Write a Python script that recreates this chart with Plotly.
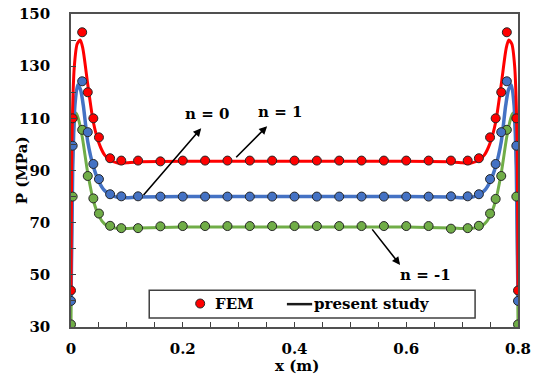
import plotly.graph_objects as go

# ---------------- data ----------------
fem_x = [0, 0.003, 0.02, 0.03, 0.04, 0.05, 0.07, 0.09, 0.12, 0.16, 0.20, 0.24, 0.28, 0.32,
         0.36, 0.40, 0.44, 0.48, 0.52, 0.56, 0.60, 0.64, 0.68, 0.71, 0.73, 0.75, 0.76,
         0.77, 0.78, 0.797, 0.8]
fem_n0 = [44, 110, 143, 120, 110, 102.7, 94.7, 93.8, 93.8, 93.5, 93.8, 93.8, 93.8, 93.8,
          93.8, 93.8, 93.8, 93.8, 93.8, 93.8, 93.8, 93.8, 93.8, 93.8, 94.7, 102.7, 110,
          120, 143, 110, 44]
fem_n1 = [40, 99.5, 124.2, 104.7, 92.5, 86.7, 80.9, 80.1, 80.1, 80, 80, 80, 80, 80,
          80, 80, 80, 80, 80, 80, 80, 80, 80.1, 80.1, 80.9, 86.7, 92.5,
          104.7, 124.2, 99.5, 40]
fem_nm1 = [31, 80, 105.6, 87.9, 79.3, 73.5, 68.8, 67.9, 67.9, 68.6, 68.7, 68.7, 68.7, 68.7,
           68.7, 68.7, 68.7, 68.7, 68.7, 68.7, 68.7, 68.7, 67.7, 67.9, 68.8, 73.5, 79.1,
           87.9, 105.6, 80, 31]

line_n0_x = [0, 0.002, 0.006, 0.011, 0.0165, 0.021, 0.03, 0.04, 0.05, 0.06, 0.07, 0.085, 0.1,
             0.12, 0.2, 0.3, 0.4, 0.5, 0.6, 0.68, 0.7, 0.715, 0.73, 0.74, 0.75, 0.76, 0.77,
             0.779, 0.7835, 0.789, 0.794, 0.798, 0.8]
line_n0_y = [44, 105, 130, 138.5, 140, 137, 123, 108.5, 100.5, 96, 94, 92.8, 93,
             93.3, 93.5, 93.5, 93.5, 93.5, 93.5, 93.3, 93, 92.8, 94, 96, 100.5, 108.5, 123,
             137, 140, 138.5, 130, 105, 44]

line_n1_x = [0, 0.003, 0.007, 0.012, 0.017, 0.022, 0.03, 0.04, 0.05, 0.06, 0.07, 0.085, 0.1,
             0.12, 0.2, 0.3, 0.4, 0.5, 0.6, 0.68, 0.7, 0.715, 0.73, 0.74, 0.75, 0.76, 0.77,
             0.778, 0.783, 0.788, 0.793, 0.797, 0.8]
line_n1_y = [40, 90, 115, 122.8, 121, 115, 101, 91.5, 85.7, 82.3, 80.8, 79.6, 79.6,
             79.8, 80, 80, 80, 80, 80, 79.8, 79.6, 79.6, 80.8, 82.3, 85.7, 91.5, 101,
             115, 121, 122.8, 115, 90, 40]

line_nm1_x = [0, 0.002, 0.005, 0.009, 0.013, 0.02, 0.03, 0.04, 0.05, 0.06, 0.07, 0.085, 0.1,
              0.12, 0.2, 0.3, 0.4, 0.5, 0.6, 0.68, 0.7, 0.715, 0.73, 0.74, 0.75, 0.76, 0.77,
              0.78, 0.787, 0.791, 0.795, 0.798, 0.8]
line_nm1_y = [31, 85, 106, 112, 110, 103, 89, 78.5, 72.5, 69.5, 68.3, 67.8, 67.8,
              68, 68.3, 68.3, 68.3, 68.3, 68.3, 68, 67.8, 67.8, 68.3, 69.5, 72.5, 78.5, 89,
              103, 110, 112, 106, 85, 31]

x_ticks = [0, 0.2, 0.4, 0.6, 0.8]
x_ticklabels = ["0", "0.2", "0.4", "0.6", "0.8"]
y_ticks = [30, 50, 70, 90, 110, 130, 150]

RED = "#FF0000"
BLUE = "#4472C4"
GREEN = "#70AD47"
FONT = "DejaVu Serif"
BOLD15 = dict(family=FONT, size=15, color="black", weight="bold")

fig = go.Figure()

# lines (present study)
for xs, ys, c, w in [(line_nm1_x, line_nm1_y, GREEN, 3),
                     (line_n1_x, line_n1_y, BLUE, 3.5),
                     (line_n0_x, line_n0_y, RED, 3)]:
    fig.add_trace(go.Scatter(x=xs, y=ys, mode="lines",
                             line=dict(color=c, width=w, shape="spline", smoothing=0.7),
                             showlegend=False, hoverinfo="skip"))

# FEM markers
for ys, c in [(fem_nm1, GREEN), (fem_n1, BLUE), (fem_n0, RED)]:
    fig.add_trace(go.Scatter(x=fem_x, y=ys, mode="markers",
                             marker=dict(color=c, size=9, line=dict(color="#262626", width=1)),
                             showlegend=False))

# arrows with labels
arrows = [  # (tail_x, tail_y, head_x, head_y)
    (0.1276, 80, 0.233, 106.2),
    (0.293, 94.5, 0.351, 107),
    (0.537, 68, 0.589, 53.8),
]
labels = [("n = 0", 0.244, 111.8), ("n = 1", 0.374, 112.3), ("n = -1", 0.634, 50.1)]
for tx, ty, hx, hy in arrows:
    fig.add_annotation(x=hx, y=hy, ax=tx, ay=ty, xref="x", yref="y", axref="x", ayref="y",
                       showarrow=True, arrowhead=2, arrowsize=1, arrowwidth=1.6,
                       arrowcolor="black", text="")
for t, lx, ly in labels:
    fig.add_annotation(x=lx, y=ly, xref="x", yref="y", text=t, showarrow=False, font=BOLD15)

# legend box (drawn manually)
fig.add_shape(type="rect", xref="paper", yref="paper", x0=0.175, x1=0.904, y0=0.029, y1=0.1175,
              line=dict(color="#404040", width=1.5), fillcolor="white", layer="above")
fig.add_shape(type="circle", xref="paper", yref="paper", xsizemode="pixel", ysizemode="pixel",
              xanchor=0.289, yanchor=0.075, x0=-4.5, x1=4.5, y0=-4.5, y1=4.5,
              fillcolor=RED, line=dict(color="#262626", width=1), layer="above")
fig.add_shape(type="line", xref="paper", yref="paper", x0=0.483, x1=0.5395, y0=0.073, y1=0.073,
              line=dict(color="#1a1a1a", width=2.5), layer="above")
fig.add_annotation(x=0.317, y=0.075, xref="paper", yref="paper", text="FEM", showarrow=False,
                   xanchor="left", yanchor="middle", font=BOLD15)
fig.add_annotation(x=0.5395, y=0.075, xref="paper", yref="paper", text="present study",
                   showarrow=False, xanchor="left", yanchor="middle", font=BOLD15)

# axis titles
fig.add_annotation(x=0.506, y=-0.124, xref="paper", yref="paper", text="x (m)",
                   showarrow=False, xanchor="center", yanchor="middle", font=BOLD15)
fig.add_annotation(x=-0.11, y=0.5, xref="paper", yref="paper", text="P (MPa)", textangle=-90,
                   showarrow=False, xanchor="center", yanchor="middle", font=BOLD15)

axis_common = dict(showline=True, mirror=True, linecolor="#505050", linewidth=1.5,
                   ticks="inside", ticklen=5, tickcolor="#404040", showgrid=False,
                   zeroline=False, automargin=False, tickfont=BOLD15)

fig.update_xaxes(range=[0, 0.8], tickvals=x_ticks, ticktext=x_ticklabels,
                 minor=dict(dtick=0.05, ticks="inside", ticklen=5, tickcolor="#404040"),
                 ticklabelstandoff=7, **axis_common)
fig.update_yaxes(range=[30, 150], tickvals=y_ticks,
                 minor=dict(dtick=10, ticks="inside", ticklen=5, tickcolor="#404040"),
                 ticklabelstandoff=16, **axis_common)

fig.update_layout(width=533, height=376, margin=dict(l=71, r=15, t=14, b=49),
                  plot_bgcolor="white", paper_bgcolor="white", showlegend=False)

fig.write_html("out.html", config={"displayModeBar": False},
               post_script="document.body.style.margin='0';document.body.style.padding='0';")
